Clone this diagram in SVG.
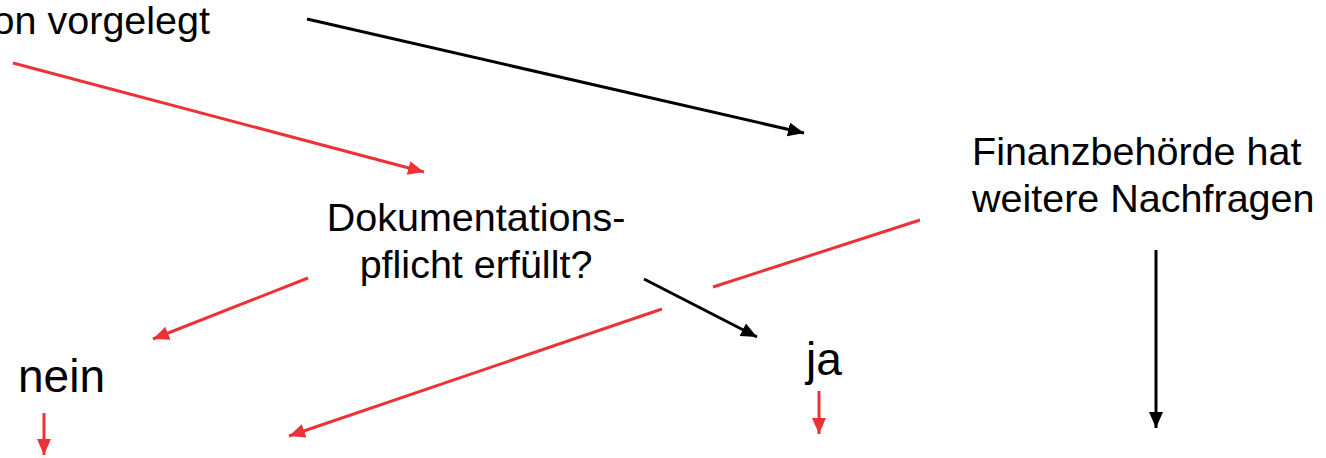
<svg xmlns="http://www.w3.org/2000/svg" width="1326" height="458" viewBox="0 0 1326 458">
<style>
text{font-family:"Liberation Sans",Arial,sans-serif;fill:#000}
.t{font-size:39.5px}
.b{font-size:46px}
.r{stroke:#ec3237;stroke-width:3;fill:none}
.k{stroke:#000;stroke-width:3;fill:none}
</style>
<defs>
<marker id="ar" markerUnits="userSpaceOnUse" markerWidth="18" markerHeight="16" refX="16" refY="7" orient="auto"><path d="M0,0 L16,7 L0,14 z" fill="#ec3237"/></marker>
<marker id="ak" markerUnits="userSpaceOnUse" markerWidth="18" markerHeight="16" refX="16" refY="7" orient="auto"><path d="M0,0 L16,7 L0,14 z" fill="#000"/></marker>
</defs>
<rect width="1326" height="458" fill="#fff"/>
<g id="n-vorgelegt"><text class="t" x="210" y="34" text-anchor="end">on vorgelegt</text></g>
<g id="n-doku"><text class="t" x="476" y="231" text-anchor="middle">Dokumentations-</text><text class="t" x="476" y="278" text-anchor="middle">pflicht erfüllt?</text></g>
<g id="n-finanz"><text class="t" x="972" y="165">Finanzbehörde hat</text><text class="t" x="972" y="212">weitere Nachfragen</text></g>
<g id="n-nein"><text class="b" x="18" y="392">nein</text></g>
<g id="n-ja"><text class="b" x="806" y="375">ja</text></g>
<g id="connectors">
<line class="k" x1="307" y1="19" x2="804" y2="133" marker-end="url(#ak)"/>
<line class="r" x1="13" y1="63" x2="424" y2="172" marker-end="url(#ar)"/>
<line class="r" x1="308" y1="278" x2="153" y2="339" marker-end="url(#ar)"/>
<line class="k" x1="644" y1="279" x2="757" y2="337" marker-end="url(#ak)"/>
<line class="r" x1="920" y1="220" x2="713" y2="287"/>
<line class="r" x1="662" y1="309" x2="289" y2="436" marker-end="url(#ar)"/>
<line class="r" x1="44" y1="413" x2="44" y2="455" marker-end="url(#ar)"/>
<line class="r" x1="819" y1="391" x2="819" y2="434" marker-end="url(#ar)"/>
<line class="k" x1="1156" y1="250" x2="1156" y2="428" marker-end="url(#ak)"/>
</g>
</svg>
